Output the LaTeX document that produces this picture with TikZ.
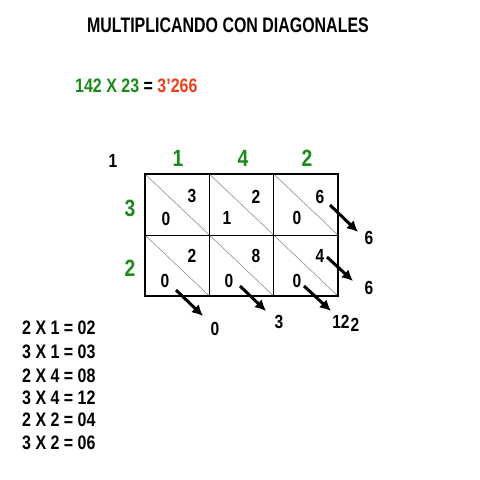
\documentclass[tikz,border=0pt]{standalone}
\usepackage{fontspec}
\setmainfont{Liberation Sans}[FakeStretch=0.82]
\newfontfamily\titlefont{Liberation Sans}[FakeStretch=0.76]
\usetikzlibrary{arrows.meta}
\definecolor{digitgreen}{RGB}{26,138,26}
\definecolor{resultred}{RGB}{232,64,28}
\tikzset{
  num/.style={inner sep=0pt,font=\bfseries\fontsize{19}{20}\selectfont},
  bignum/.style={inner sep=0pt,text=digitgreen,font=\bfseries\fontsize{23.5}{24}\selectfont},
  listline/.style={inner sep=0pt,anchor=west,font=\bfseries\fontsize{19.5}{20}\selectfont},
  carry/.style={line width=3pt,-{Latex[length=11pt,width=11pt]}}
}
\begin{document}
\begin{tikzpicture}[x=1pt,y=-1pt]
        \useasboundingbox (0,0) rectangle (480,480);
        % title and result
        \node[inner sep=0pt,font=\titlefont\bfseries\fontsize{21}{22}\selectfont] (title) at (228,25) {MULTIPLICANDO CON DIAGONALES};
        \node[listline] (sum) at (75,86) {\textcolor{digitgreen}{142 X 23} = \textcolor{resultred}{3’266}};
        % lattice
        \foreach \c in {0,1,2} {
          \foreach \r in {0,1} {
            \draw[gray,line width=0.5pt] ({145+64.3*\c},{174+61*\r})--({145+64.3*(\c+1)},{174+61*(\r+1)});
          }
        }
        \draw[line width=1pt] (209.3,174)--(209.3,296) (273.7,174)--(273.7,296) (145,235)--(338,235);
        \draw[line width=1.8pt] (145,174) rectangle (338,296);
        % factors
        \node[num] (carry) at (113,161) {1};
        \node[bignum] (t1) at (178,158) {1};
        \node[bignum] (t4) at (243,158) {4};
        \node[bignum] (t2) at (307,158) {2};
        \node[bignum] (l3) at (130,208) {3};
        \node[bignum] (l2) at (130,268) {2};
        % partial products
        \node[num] (a3) at (192,196) {3};
        \node[num] (a0) at (166,219) {0};
        \node[num] (b2) at (256,197) {2};
        \node[num] (b1) at (227,218) {1};
        \node[num] (c6) at (320,197) {6};
        \node[num] (c0) at (297,218) {0};
        \node[num] (d2) at (192,256) {2};
        \node[num] (d0) at (165,281) {0};
        \node[num] (e8) at (256,256) {8};
        \node[num] (e0) at (229,281) {0};
        \node[num] (f4) at (320,256) {4};
        \node[num] (f0) at (297,281) {0};
        % sums of the diagonals
        \node[num] (s6a) at (369,238) {6};
        \node[num] (s6b) at (369,288) {6};
        \node[num] (s0) at (215,329) {0};
        \node[num] (s3) at (279,322) {3};
        \node[num] (s12) at (341,322) {12};
        \node[num] (s2) at (355,325) {2};
        \coordinate (p1) at (330,205); \coordinate (q1) at (358,232);
        \coordinate (p2) at (327,257); \coordinate (q2) at (353,281);
        \coordinate (p3) at (176,290); \coordinate (q3) at (203,316);
        \coordinate (p4) at (240,286); \coordinate (q4) at (266,311);
        \coordinate (p5) at (304,286); \coordinate (q5) at (331,311);
        \foreach \k in {1,...,5} \draw[carry] (p\k)--(q\k);
        % table
        \node[listline] (m1) at (22,328) {2 X 1 = 02};
        \node[listline] (m2) at (22,352) {3 X 1 = 03};
        \node[listline] (m3) at (22,376) {2 X 4 = 08};
        \node[listline] (m4) at (22,398) {3 X 4 = 12};
        \node[listline] (m5) at (22,420) {2 X 2 = 04};
        \node[listline] (m6) at (22,443) {3 X 2 = 06};
      \end{tikzpicture}
\end{document}
